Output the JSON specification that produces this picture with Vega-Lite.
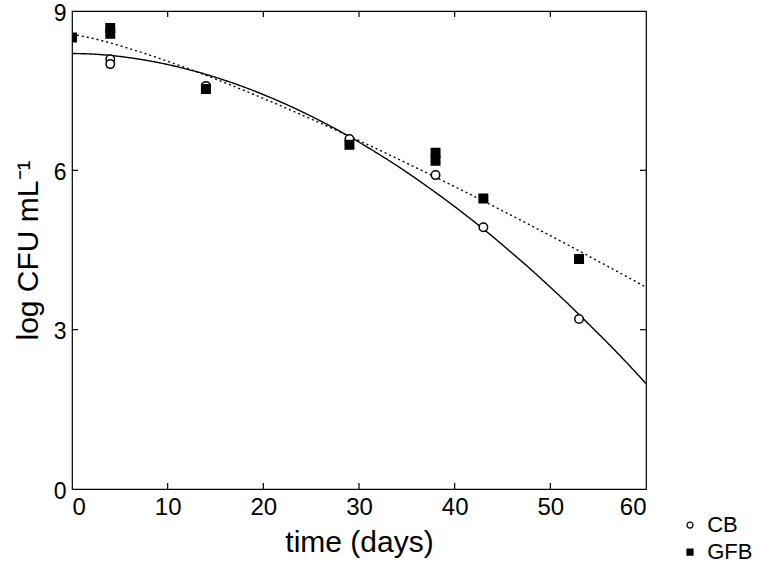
{
  "$schema": "https://vega.github.io/schema/vega-lite/v6.json",
  "width": 574,
  "height": 478,
  "autosize": {"type": "none"},
  "padding": {"left": 72, "top": 11, "right": 116, "bottom": 85},
  "background": "white",
  "config": {
    "view": {"stroke": "black", "strokeWidth": 1.2},
    "font": "Liberation Sans",
    "axis": {"grid": false, "domain": false, "ticks": false, "labelColor": "black", "titleColor": "black", "labelFont": "Liberation Sans", "titleFont": "Liberation Sans", "titleFontWeight": "normal"}
  },
  "datasets": {
    "curves": [
      {"t": 0, "v": 8.2, "fit": "CB"}, {"t": 2, "v": 8.19, "fit": "CB"}, {"t": 4, "v": 8.164, "fit": "CB"}, {"t": 6, "v": 8.121, "fit": "CB"}, {"t": 8, "v": 8.064, "fit": "CB"}, {"t": 10, "v": 7.992, "fit": "CB"}, {"t": 12, "v": 7.906, "fit": "CB"}, {"t": 14, "v": 7.807, "fit": "CB"}, {"t": 16, "v": 7.693, "fit": "CB"}, {"t": 18, "v": 7.567, "fit": "CB"}, {"t": 20, "v": 7.426, "fit": "CB"}, {"t": 22, "v": 7.273, "fit": "CB"}, {"t": 24, "v": 7.107, "fit": "CB"}, {"t": 26, "v": 6.928, "fit": "CB"}, {"t": 28, "v": 6.736, "fit": "CB"}, {"t": 30, "v": 6.531, "fit": "CB"}, {"t": 32, "v": 6.312, "fit": "CB"}, {"t": 34, "v": 6.084, "fit": "CB"}, {"t": 36, "v": 5.839, "fit": "CB"}, {"t": 38, "v": 5.583, "fit": "CB"}, {"t": 40, "v": 5.317, "fit": "CB"}, {"t": 42, "v": 5.038, "fit": "CB"}, {"t": 44, "v": 4.748, "fit": "CB"}, {"t": 46, "v": 4.441, "fit": "CB"}, {"t": 48, "v": 4.129, "fit": "CB"}, {"t": 50, "v": 3.799, "fit": "CB"}, {"t": 52, "v": 3.461, "fit": "CB"}, {"t": 54, "v": 3.107, "fit": "CB"}, {"t": 56, "v": 2.748, "fit": "CB"}, {"t": 58, "v": 2.375, "fit": "CB"}, {"t": 60, "v": 1.985, "fit": "CB"},
      {"t": 0, "v": 8.56, "fit": "GFB"}, {"t": 2, "v": 8.492, "fit": "GFB"}, {"t": 4, "v": 8.399, "fit": "GFB"}, {"t": 6, "v": 8.292, "fit": "GFB"}, {"t": 8, "v": 8.177, "fit": "GFB"}, {"t": 10, "v": 8.053, "fit": "GFB"}, {"t": 12, "v": 7.924, "fit": "GFB"}, {"t": 14, "v": 7.79, "fit": "GFB"}, {"t": 16, "v": 7.648, "fit": "GFB"}, {"t": 18, "v": 7.503, "fit": "GFB"}, {"t": 20, "v": 7.354, "fit": "GFB"}, {"t": 22, "v": 7.202, "fit": "GFB"}, {"t": 24, "v": 7.045, "fit": "GFB"}, {"t": 26, "v": 6.886, "fit": "GFB"}, {"t": 28, "v": 6.724, "fit": "GFB"}, {"t": 30, "v": 6.559, "fit": "GFB"}, {"t": 32, "v": 6.391, "fit": "GFB"}, {"t": 34, "v": 6.22, "fit": "GFB"}, {"t": 36, "v": 6.047, "fit": "GFB"}, {"t": 38, "v": 5.871, "fit": "GFB"}, {"t": 40, "v": 5.693, "fit": "GFB"}, {"t": 42, "v": 5.513, "fit": "GFB"}, {"t": 44, "v": 5.33, "fit": "GFB"}, {"t": 46, "v": 5.146, "fit": "GFB"}, {"t": 48, "v": 4.959, "fit": "GFB"}, {"t": 50, "v": 4.77, "fit": "GFB"}, {"t": 52, "v": 4.58, "fit": "GFB"}, {"t": 54, "v": 4.387, "fit": "GFB"}, {"t": 56, "v": 4.193, "fit": "GFB"}, {"t": 58, "v": 3.997, "fit": "GFB"}, {"t": 60, "v": 3.8, "fit": "GFB"}
    ],
    "points": [
      {"t": 4, "v": 8.09, "series": "CB"}, {"t": 4, "v": 8.0, "series": "CB"}, {"t": 14, "v": 7.59, "series": "CB"}, {"t": 29, "v": 6.59, "series": "CB"}, {"t": 38, "v": 5.91, "series": "CB"}, {"t": 43, "v": 4.93, "series": "CB"}, {"t": 53, "v": 3.2, "series": "CB"},
      {"t": 0, "v": 8.5, "series": "GFB"}, {"t": 4, "v": 8.68, "series": "GFB"}, {"t": 4, "v": 8.57, "series": "GFB"}, {"t": 14, "v": 7.53, "series": "GFB"}, {"t": 29, "v": 6.48, "series": "GFB"}, {"t": 38, "v": 6.33, "series": "GFB"}, {"t": 38, "v": 6.18, "series": "GFB"}, {"t": 43, "v": 5.47, "series": "GFB"}, {"t": 53, "v": 4.33, "series": "GFB"}
    ],
    "legendrows": [
      {"t": 64.6, "tl": 66.4, "v": -0.68, "series": "CB"},
      {"t": 64.6, "tl": 66.4, "v": -1.19, "series": "GFB"}
    ],
    "xticks": [
      {"t": 10, "v": 0, "v2": 0.113}, {"t": 20, "v": 0, "v2": 0.113}, {"t": 30, "v": 0, "v2": 0.113}, {"t": 40, "v": 0, "v2": 0.113}, {"t": 50, "v": 0, "v2": 0.113},
      {"t": 10, "v": 9, "v2": 8.887}, {"t": 20, "v": 9, "v2": 8.887}, {"t": 30, "v": 9, "v2": 8.887}, {"t": 40, "v": 9, "v2": 8.887}, {"t": 50, "v": 9, "v2": 8.887}
    ],
    "yticks": [
      {"t": 0, "t2": 0.63, "v": 3}, {"t": 0, "t2": 0.63, "v": 6}, {"t": 60, "t2": 59.37, "v": 3}, {"t": 60, "t2": 59.37, "v": 6}
    ]
  },
  "layer": [
    {
      "data": {"name": "curves"},
      "mark": {"type": "line", "color": "black", "strokeWidth": 1.4, "interpolate": "monotone", "clip": true},
      "encoding": {
        "x": {"field": "t", "type": "quantitative", "scale": {"domain": [0, 60], "nice": false, "zero": false},
              "axis": {"orient": "bottom", "values": [0, 10, 20, 30, 40, 50, 60], "labelFontSize": 24, "labelPadding": 6, "title": "time (days)", "titleFontSize": 30, "titlePadding": 8}},
        "y": {"field": "v", "type": "quantitative", "scale": {"domain": [0, 9], "nice": false, "zero": false},
              "axis": {"orient": "left", "values": [0, 3, 6, 9], "labelFontSize": 23, "labelPadding": 6, "labelOffset": 2, "title": "log CFU mL⁻¹", "titleFontSize": 30, "titlePadding": 10}},
        "detail": {"field": "fit"},
        "strokeDash": {"field": "fit", "type": "nominal", "scale": {"domain": ["CB", "GFB"], "range": [[1, 0], [2, 3]]}, "legend": null}
      }
    },
    {
      "data": {"name": "xticks"},
      "mark": {"type": "rule", "color": "black", "strokeWidth": 1.2},
      "encoding": {
        "x": {"field": "t", "type": "quantitative"},
        "y": {"field": "v", "type": "quantitative"},
        "y2": {"field": "v2"}
      }
    },
    {
      "data": {"name": "yticks"},
      "mark": {"type": "rule", "color": "black", "strokeWidth": 1.2},
      "encoding": {
        "x": {"field": "t", "type": "quantitative"},
        "x2": {"field": "t2"},
        "y": {"field": "v", "type": "quantitative"}
      }
    },
    {
      "data": {"name": "points"},
      "mark": {"type": "point", "filled": true, "clip": true, "strokeWidth": 1.5, "opacity": 1, "size": 72},
      "encoding": {
        "x": {"field": "t", "type": "quantitative"},
        "y": {"field": "v", "type": "quantitative"},
        "shape": {"field": "series", "type": "nominal", "scale": {"domain": ["CB", "GFB"], "range": ["circle", "square"]}, "legend": null},
        "fill": {"field": "series", "type": "nominal", "scale": {"domain": ["CB", "GFB"], "range": ["white", "black"]}, "legend": null},
        "stroke": {"field": "series", "type": "nominal", "scale": {"domain": ["CB", "GFB"], "range": ["black", "black"]}, "legend": null}
      }
    },
    {
      "data": {"name": "legendrows"},
      "mark": {"type": "point", "filled": true, "clip": false, "strokeWidth": 1.2, "opacity": 1, "size": 36},
      "encoding": {
        "x": {"field": "t", "type": "quantitative"},
        "y": {"field": "v", "type": "quantitative"},
        "shape": {"field": "series", "type": "nominal", "legend": null},
        "fill": {"field": "series", "type": "nominal", "legend": null},
        "stroke": {"field": "series", "type": "nominal", "legend": null}
      }
    },
    {
      "data": {"name": "legendrows"},
      "mark": {"type": "text", "align": "left", "baseline": "middle", "fontSize": 22, "font": "Liberation Sans", "color": "black", "clip": false},
      "encoding": {
        "x": {"field": "tl", "type": "quantitative"},
        "y": {"field": "v", "type": "quantitative"},
        "text": {"field": "series"}
      }
    }
  ]
}
